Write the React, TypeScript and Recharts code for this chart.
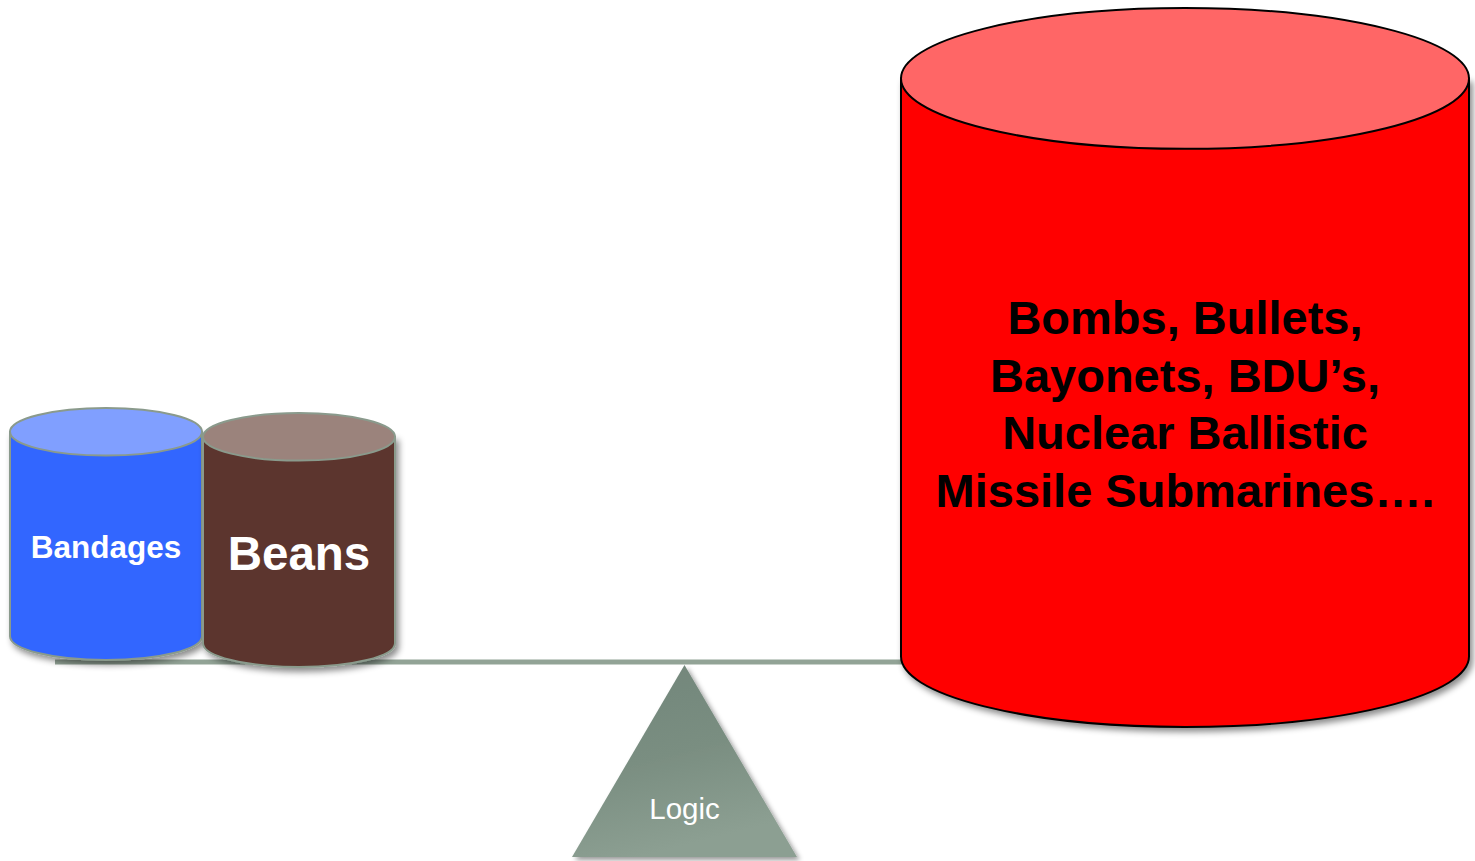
import React from "react";
import { ComposedChart, XAxis, YAxis, ReferenceArea } from "recharts";

// loads on the beam, in beam units (x along the beam, y above the beam)
const loadNames = [
  ["Bandages"],
  ["Beans"],
  ["Bombs, Bullets,", "Bayonets, BDU’s,", "Nuclear Ballistic", "Missile Submarines…."],
];
const loadStart = [10, 203, 901];
const loadEnd = [202, 395, 1469];
const loadTop = [254, 249, 654];
const loadBase = [2, -5, -65];

const beamStart = 55;
const beamEnd = 905;

const fulcrumLabel = "Logic";
const fulcrumLeft = 572;
const fulcrumRight = 797;
const fulcrumTop = -3;
const fulcrumBottom = -195;

const loadStyles = [
  { body: "#3366ff", top: "#809fff", stroke: "#8a9a8c", text: "#ffffff", fontSize: 31.5, lineHeight: 36 },
  { body: "#5b352d", top: "#9b837c", stroke: "#8a9a8c", text: "#ffffff", fontSize: 47.5, lineHeight: 54 },
  { body: "#ff0000", top: "#ff6666", stroke: "#000000", text: "#000000", fontSize: 47, lineHeight: 57.5 },
];

const FONT = "'Liberation Sans', Arial, Helvetica, sans-serif";

const renderCylinder = (p: any, i: number) => {
  const { x, y, width, height } = p;
  const st = loadStyles[i];
  const ry = width * 0.124;
  const topCy = y + ry;
  const botCy = y + height - ry;
  const lines = loadNames[i];
  const cx = x + width / 2;
  const mid = y + height * 0.55;
  return (
    <g>
      <defs>
        <filter id={`shadow${i}`} x="-10%" y="-10%" width="130%" height="130%">
          <feDropShadow dx="3" dy="4" stdDeviation="3" floodColor="#000" floodOpacity="0.45" />
        </filter>
      </defs>
      <path
        d={`M ${x} ${topCy} L ${x} ${botCy} A ${width / 2} ${ry} 0 0 0 ${x + width} ${botCy} L ${x + width} ${topCy} Z`}
        fill={st.body}
        stroke={st.stroke}
        strokeWidth={2}
        filter={`url(#shadow${i})`}
      />
      <ellipse cx={cx} cy={topCy} rx={width / 2} ry={ry} fill={st.top} stroke={st.stroke} strokeWidth={2} />
      {lines.map((t, k) => (
        <text
          key={k}
          x={cx}
          y={mid + (k - (lines.length - 1) / 2) * st.lineHeight + st.fontSize * 0.36}
          textAnchor="middle"
          fill={st.text}
          fontFamily={FONT}
          fontWeight="bold"
          fontSize={st.fontSize}
        >
          {t}
        </text>
      ))}
    </g>
  );
};

const renderFulcrum = (p: any) => {
  const { x, y, width, height } = p;
  return (
    <g>
      <defs>
        <linearGradient id="fulcrumGrad" x1="0" y1="0" x2="0.3" y2="1">
          <stop offset="0%" stopColor="#71857a" />
          <stop offset="55%" stopColor="#7a8e81" />
          <stop offset="100%" stopColor="#8c9f92" />
        </linearGradient>
        <filter id="fulcrumShadow" x="-10%" y="-10%" width="130%" height="130%">
          <feDropShadow dx="3" dy="3" stdDeviation="2.5" floodColor="#000" floodOpacity="0.4" />
        </filter>
      </defs>
      <path
        d={`M ${x} ${y + height} L ${x + width / 2} ${y} L ${x + width} ${y + height} Z`}
        fill="url(#fulcrumGrad)"
        filter="url(#fulcrumShadow)"
      />
      <text
        x={x + width / 2}
        y={y + height * 0.745 + 29.5 * 0.36}
        textAnchor="middle"
        fill="#ffffff"
        fontFamily={FONT}
        fontSize={29.5}
      >
        {fulcrumLabel}
      </text>
    </g>
  );
};

const renderBeam = (p: any) => {
  const { x, y, width, height } = p;
  return <rect x={x} y={y} width={width} height={height} fill="#92a396" />;
};

export default function App() {
  return (
    <div style={{ position: "absolute", left: 0, top: 0, width: 1475, height: 861, background: "#fff" }}>
      <ComposedChart width={1475} height={861} margin={{ top: 0, right: 0, bottom: 0, left: 0 }} data={[]}>
        <XAxis type="number" dataKey="x" domain={[0, 1475]} hide allowDataOverflow />
        <YAxis type="number" domain={[-199, 662]} hide allowDataOverflow />
        <ReferenceArea x1={beamStart} x2={beamEnd} y1={-2.5} y2={2.5} shape={renderBeam} />
        <ReferenceArea
          x1={fulcrumLeft}
          x2={fulcrumRight}
          y1={fulcrumBottom}
          y2={fulcrumTop}
          shape={renderFulcrum}
        />
        {loadNames.map((_, i) => (
          <ReferenceArea
            key={i}
            x1={loadStart[i]}
            x2={loadEnd[i]}
            y1={loadBase[i]}
            y2={loadTop[i]}
            shape={(p: any) => renderCylinder(p, i)}
          />
        ))}
      </ComposedChart>
    </div>
  );
}
